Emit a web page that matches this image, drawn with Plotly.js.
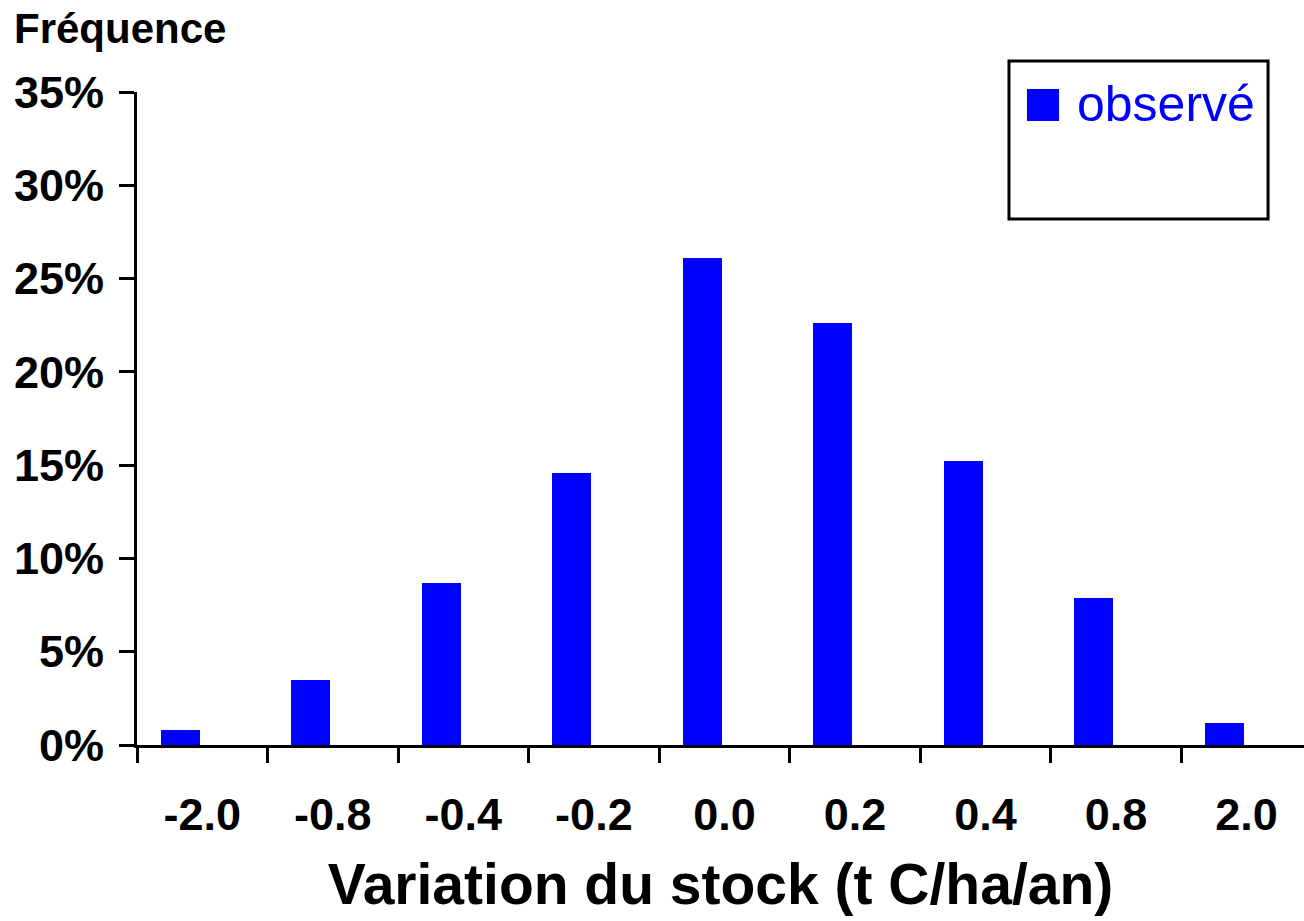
<!DOCTYPE html>
<html>
<head>
<meta charset="utf-8">
<script src="https://cdn.plot.ly/plotly-3.0.1.min.js"></script>
<style>
  html, body { margin: 0; padding: 0; background: #ffffff; }
  #chart { width: 1304px; height: 921px; }
</style>
</head>
<body>
<div id="chart"></div>
<script>
// Classes of annual stock variation (t C/ha/an) and observed frequency (%)
const classes = ['-2.0', '-0.8', '-0.4', '-0.2', '0.0', '0.2', '0.4', '0.8', '2.0'];
const observed = [0.8, 3.5, 8.7, 14.6, 26.1, 22.6, 15.2, 7.9, 1.2];
const yTicks = [0, 5, 10, 15, 20, 25, 30, 35];
const seriesName = 'observé';

const FONT = 'Liberation Sans, Arial, Helvetica, sans-serif';
const BLUE = '#0000FF';

const trace = {
  type: 'bar',
  x: classes,
  y: observed,
  name: seriesName,
  marker: { color: BLUE, line: { width: 0 } },
  width: 0.3,
  offset: -0.32,
  showlegend: false,
  hoverinfo: 'x+y'
};

const layout = {
  width: 1304,
  height: 921,
  margin: { l: 137, r: 0, t: 92, b: 176 },
  paper_bgcolor: '#ffffff',
  plot_bgcolor: '#ffffff',
  font: { family: FONT, color: '#000000' },
  bargap: 0,
  xaxis: {
    type: 'category',
    range: [-0.5, 8.44],
    tickson: 'boundaries',
    ticks: 'outside',
    ticklen: 15,
    tickwidth: 3,
    tickcolor: '#000000',
    showline: true,
    linewidth: 3,
    linecolor: '#000000',
    showgrid: false,
    zeroline: false,
    ticklabelstandoff: 28,
    tickfont: { family: FONT, size: 45, weight: 700, color: '#000000' },
    title: {
      text: 'Variation du stock (t C/ha/an)',
      font: { family: FONT, size: 57, weight: 700, color: '#000000' },
      standoff: 26
    },
    fixedrange: true
  },
  yaxis: {
    range: [0, 35],
    tickvals: yTicks,
    ticktext: yTicks.map(v => v + '%'),
    ticks: 'outside',
    ticklen: 15,
    tickwidth: 3,
    tickcolor: '#000000',
    showline: true,
    linewidth: 3,
    linecolor: '#000000',
    showgrid: false,
    zeroline: false,
    ticklabelstandoff: 6,
    tickfont: { family: FONT, size: 45, weight: 700, color: '#000000' },
    fixedrange: true
  },
  shapes: [
    // legend frame
    { type: 'rect', xref: 'paper', yref: 'paper',
      x0: 0.7472, x1: 0.9692, y0: 0.8055, y1: 1.0475,
      line: { color: '#000000', width: 3 }, fillcolor: '#ffffff', layer: 'above' },
    // legend swatch
    { type: 'rect', xref: 'paper', yref: 'paper',
      x0: 0.7626, x1: 0.7901, y0: 0.9556, y1: 1.0046,
      line: { width: 0 }, fillcolor: BLUE, layer: 'above' }
  ],
  annotations: [
    { text: 'Fréquence', xref: 'paper', yref: 'paper',
      x: -0.1075, y: 1.097, xanchor: 'left', yanchor: 'middle',
      showarrow: false,
      font: { family: FONT, size: 42, weight: 700, color: '#000000' } },
    { text: seriesName, xref: 'paper', yref: 'paper',
      x: 0.8035, y: 0.981, xanchor: 'left', yanchor: 'middle',
      showarrow: false,
      font: { family: FONT, size: 50, color: BLUE } }
  ]
};

Plotly.newPlot('chart', [trace], layout, { displayModeBar: false, staticPlot: true });
</script>
</body>
</html>
